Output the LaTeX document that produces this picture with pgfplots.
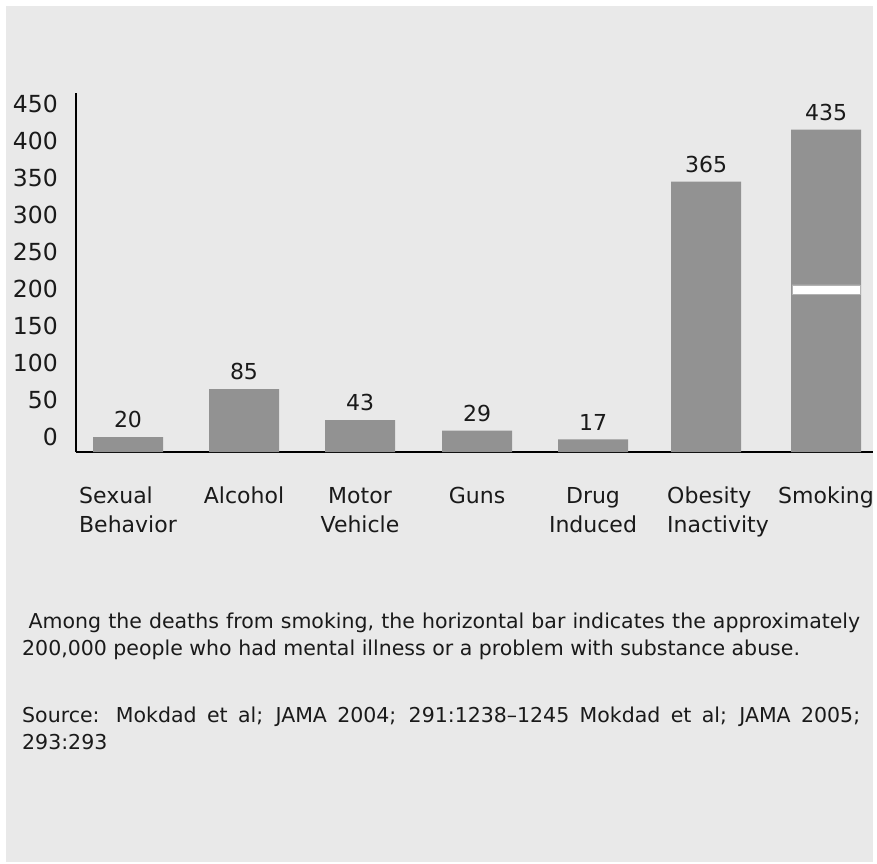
\documentclass[border=0pt]{standalone}
\usepackage{pgfplots}
\pgfplotsset{compat=1.18}
\usepackage{fontspec}
\setmainfont{DejaVu Sans}
\definecolor{bg}{HTML}{E9E9E9}
\definecolor{barc}{HTML}{929292}
\definecolor{txt}{HTML}{1A1A1A}
\begin{document}
\begin{tikzpicture}[x=1pt,y=1pt]
\path[use as bounding box, fill=white] (0,0) rectangle (877,863);
\fill[bg] (6,1) rectangle (873,857);
\begin{axis}[
  at={(76pt,411pt)}, anchor=south west, scale only axis,
  width=797pt, height=359pt,
  xmin=76, xmax=873, ymin=0, ymax=484.5,
  axis x line=bottom, axis y line=left,
  axis line style={line width=2pt, -, black},
  major tick length=0pt,
  /pgf/number format/assume math mode=true,
  xtick={128,244,360,477,593,706,826},
  xticklabels={
    {\begin{tabular}{@{}l@{}}Sexual\\Behavior\end{tabular}},
    {\begin{tabular}{@{}c@{}}Alcohol\end{tabular}},
    {\begin{tabular}{@{}c@{}}Motor\\Vehicle\end{tabular}},
    {\begin{tabular}{@{}c@{}}Guns\end{tabular}},
    {\begin{tabular}{@{}c@{}}Drug\\Induced\end{tabular}},
    {\begin{tabular}{@{\hspace{24pt}}l@{}}Obesity\\Inactivity\end{tabular}},
    {\begin{tabular}{@{}c@{}}Smoking\end{tabular}}},
  xticklabel style={anchor=north, inner sep=0pt, yshift=-31pt, text=txt,
    font=\fontsize{22}{29}\selectfont},
  ytick={20,70,120,170,220,270,320,370,420,470},
  yticklabels={0,50,100,150,200,250,300,350,400,450},
  yticklabel style={anchor=east, inner sep=0pt, xshift=-18pt, text=txt,
    font=\fontsize{23.5}{28}\selectfont},
  clip=false,
]
\addplot[ybar, bar width=70, fill=barc, draw=none,
  nodes near coords,
  every node near coord/.append style={anchor=south, inner sep=0pt, yshift=9pt,
    text=txt, font=\fontsize{22}{26}\selectfont}]
  coordinates {(128,20) (244,85) (360,43) (477,29) (593,17) (706,365) (826,435)};
\addplot[mark=none, fill=white, draw=black!30, line width=0.8pt]
  coordinates {(792,213.2) (860,213.2) (860,225.4) (792,225.4) (792,213.2)};
\end{axis}
\node[anchor=base west, inner sep=0pt, text=txt] at (22,235) {\parbox[t]{838pt}{\fontsize{20.5}{27}\selectfont\hspace*{6.5pt}Among the deaths from smoking, the horizontal bar indicates the approximately\linebreak 200,000 people who had mental illness or a problem with substance abuse.}};
\node[anchor=base west, inner sep=0pt, text=txt] at (22,141) {\parbox[t]{838pt}{\fontsize{20.5}{27}\selectfont Source: Mokdad et al; JAMA 2004; 291:1238--1245 Mokdad et al; JAMA 2005;\linebreak 293:293}};
\end{tikzpicture}
\end{document}
